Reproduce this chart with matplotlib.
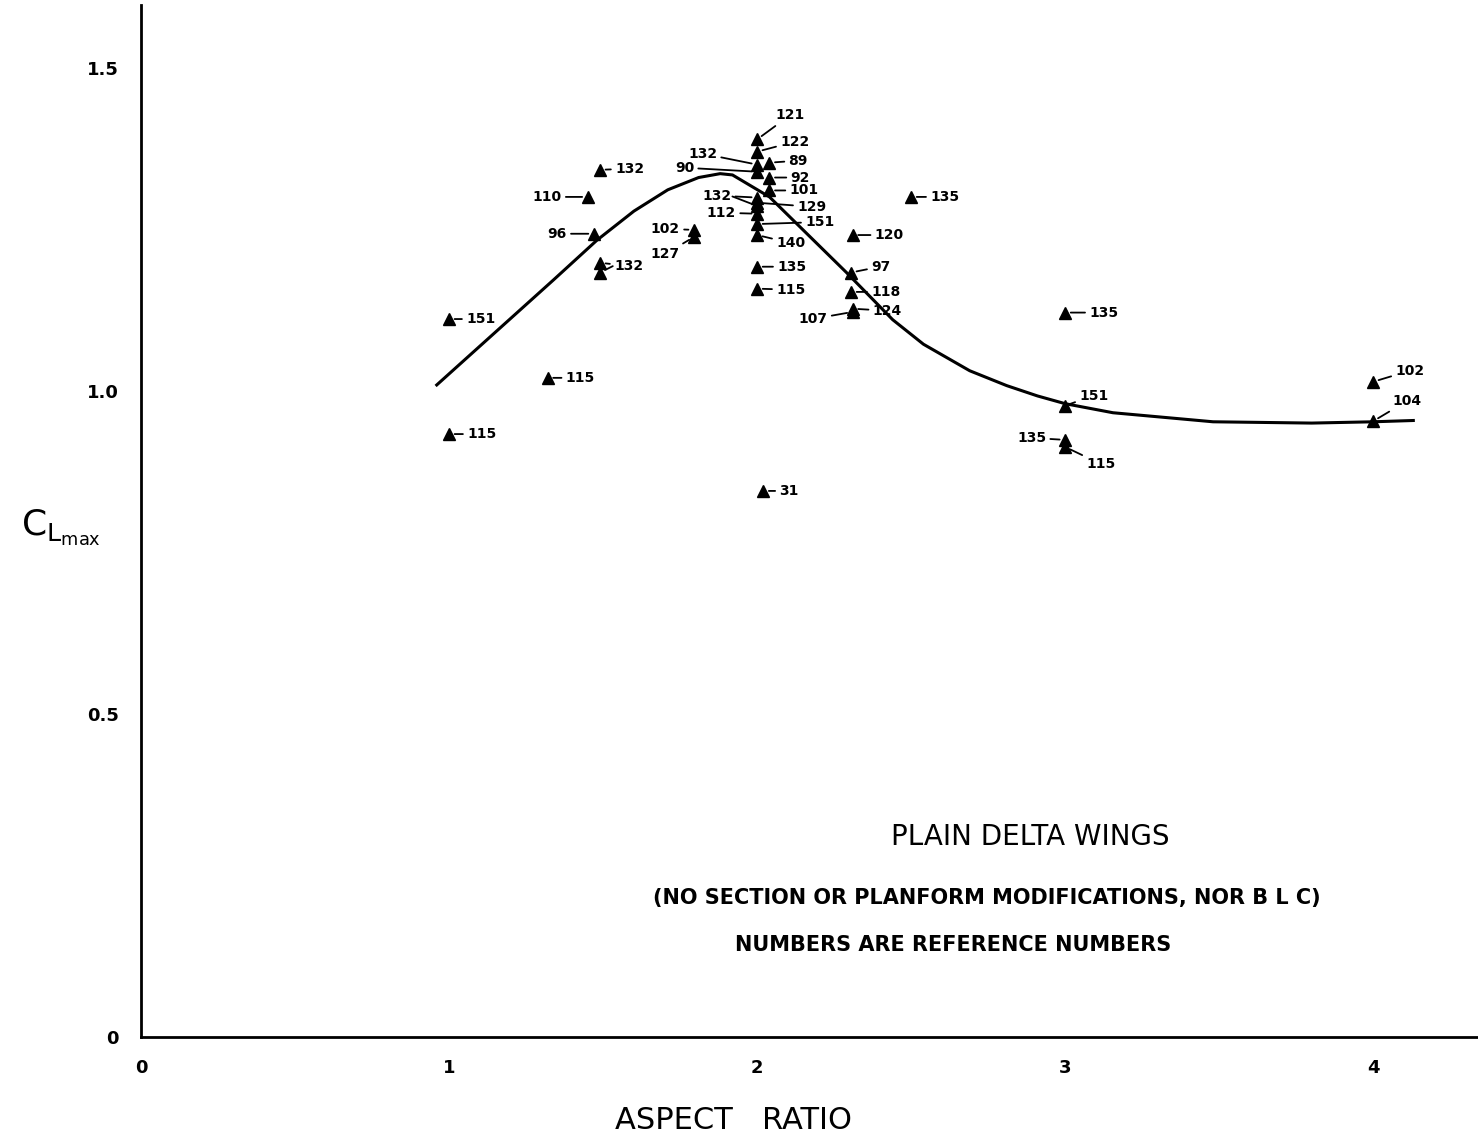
import matplotlib
matplotlib.use("Agg")
import matplotlib.pyplot as plt

# faired curve
curve_x = [0.96, 1.34, 1.48, 1.60, 1.71, 1.81, 1.88, 1.92, 2.04, 2.29, 2.44, 2.54,
           2.69, 2.81, 2.91, 3.0, 3.155, 3.48, 3.80, 4.0, 4.13]
curve_y = [1.009, 1.172, 1.233, 1.278, 1.311, 1.330, 1.336, 1.334, 1.30, 1.183, 1.110,
           1.072, 1.031, 1.008, 0.992, 0.980, 0.966, 0.952, 0.950, 0.952, 0.954]

# test points: aspect ratio, CLmax, reference number
ar = [1.0, 1.0, 1.32, 1.49, 1.45, 1.47, 1.49, 1.49, 1.795, 1.795,
      2.0, 2.0, 2.0, 2.0, 2.04, 2.04, 2.04, 2.0, 2.0, 2.0,
      2.0, 2.0, 2.0, 2.0, 2.0, 2.02, 2.31, 2.50, 2.305, 2.305,
      2.31, 2.31, 3.0, 3.0, 3.0, 3.0, 4.0, 4.0]
clmax = [1.111, 0.933, 1.02, 1.342, 1.30, 1.243, 1.198, 1.183, 1.249, 1.238,
         1.389, 1.370, 1.350, 1.339, 1.353, 1.33, 1.31, 1.299, 1.286, 1.291,
         1.274, 1.258, 1.241, 1.192, 1.158, 0.845, 1.241, 1.30, 1.183, 1.153,
         1.127, 1.122, 1.121, 0.977, 0.924, 0.913, 1.014, 0.953]
refs = ["151", "115", "115", "132", "110", "96", "132", "", "102", "127",
        "121", "122", "132", "90", "89", "92", "101", "132", "", "129",
        "112", "151", "140", "135", "115", "31", "120", "135", "97", "118",
        "124", "107", "135", "151", "135", "115", "102", "104"]
# label anchor offsets in pixels (right, down) and alignment
offs = [(17, 0, "left"), (18, 0, "left"), (18, 0, "left"), (15, -1, "left"),
        (-26, 0, "right"), (-27, 0, "right"), (14, 3, "left"), (14, -7, "left"),
        (-14, -1, "right"), (-14, 17, "right"),
        (18, -24, "left"), (23, -10, "left"), (-40, -11, "right"), (-63, -4, "right"),
        (19, -2, "left"), (21, 0, "left"), (20, 0, "left"), (-26, -2, "right"),
        (-26, -10, "right"), (40, 4, "left"),
        (-21, -1, "right"), (48, -2, "left"), (19, 8, "left"), (20, 0, "left"),
        (19, 1, "left"), (16, 0, "left"), (22, 0, "left"), (19, 0, "left"),
        (20, -6, "left"), (20, 0, "left"), (20, 2, "left"), (-25, 7, "right"),
        (24, 0, "left"), (14, -10, "left"), (-19, -2, "right"), (21, 17, "left"),
        (22, -11, "left"), (19, -20, "left")]

fig = plt.figure(figsize=(14.78, 11.37), dpi=100)
ax = fig.add_axes([0.0954, 0.088, 0.9046, 0.9076])

ax.plot(curve_x, curve_y, color="black", lw=2.2, solid_joinstyle="round")
ax.plot(ar, clmax, linestyle="none", marker="^", color="black", ms=9)

for x, y, r, (dx, dy, ha) in zip(ar, clmax, refs, offs):
    ax.annotate(r, xy=(x, y), xytext=(dx * 0.72, -dy * 0.72), textcoords="offset points",
                ha=ha, va="center", fontsize=10, fontweight="bold",
                arrowprops=dict(arrowstyle="-", color="black", lw=1.3,
                                shrinkA=1, shrinkB=4))

ax.set_xlim(0, 4.34)
ax.set_ylim(0, 1.597)
ax.set_xticks([0, 1, 2, 3, 4])
ax.set_xticklabels(["0", "1", "2", "3", "4"])
ax.set_yticks([0, 0.5, 1.0, 1.5])
ax.set_yticklabels(["0", "0.5", "1.0", "1.5"])
ax.tick_params(length=0, labelsize=13, pad=16)
for lab in ax.get_xticklabels() + ax.get_yticklabels():
    lab.set_fontweight("bold")
ax.spines["top"].set_visible(False)
ax.spines["right"].set_visible(False)
ax.spines["left"].set_linewidth(2)
ax.spines["bottom"].set_linewidth(2)

ax.set_xlabel("ASPECT   RATIO", fontsize=22, va="center")
ax.xaxis.set_label_coords(0.443, -0.081)
fig.text(0.041, 0.536, r"$\mathsf{C_{L_{max}}}$", fontsize=26, ha="center", va="center")

ax.text(2.885, 0.31, "PLAIN DELTA WINGS", fontsize=20, ha="center", va="center")
ax.text(2.745, 0.215, "(NO SECTION OR PLANFORM MODIFICATIONS, NOR B L C)",
        fontsize=15, fontweight="bold", ha="center", va="center")
ax.text(2.635, 0.143, "NUMBERS ARE REFERENCE NUMBERS",
        fontsize=15, fontweight="bold", ha="center", va="center")

fig.savefig("out.png", dpi=100)
